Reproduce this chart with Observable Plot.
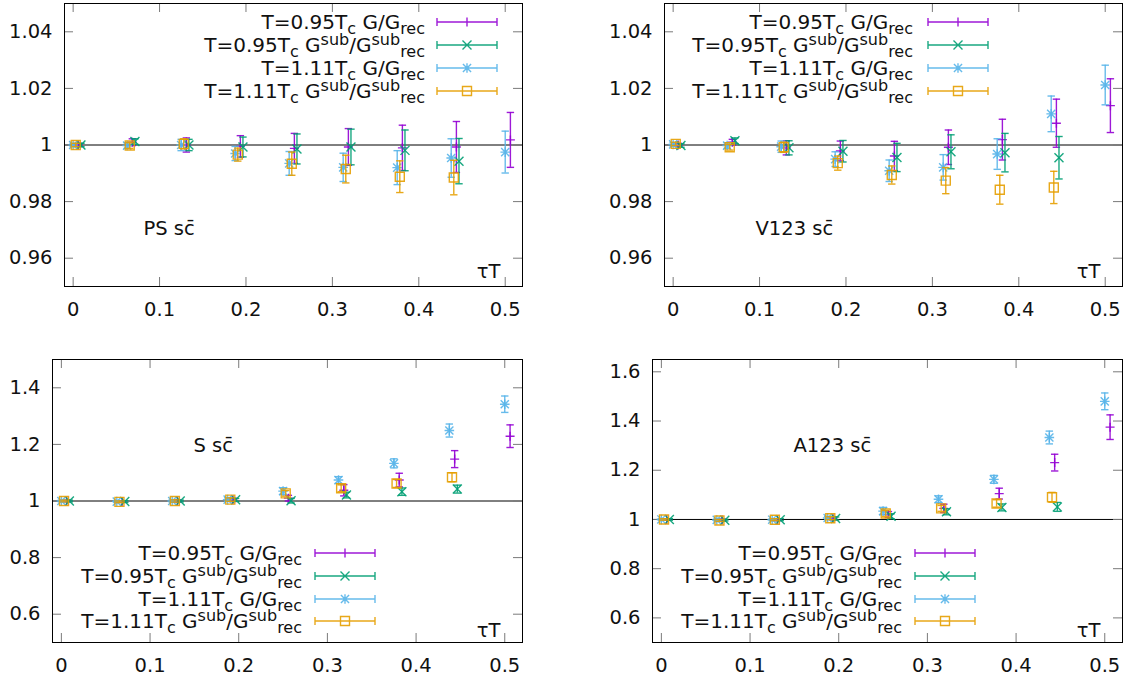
<!DOCTYPE html>
<html><head><meta charset="utf-8">
<script src="https://cdn.jsdelivr.net/npm/d3@7"></script>
<script src="https://cdn.jsdelivr.net/npm/@observablehq/plot@0.6"></script>
<style>
body{margin:0;background:#fff;}
#chart{position:relative;width:1126px;height:682px;overflow:hidden;font-family:"DejaVu Sans",sans-serif;background:#fff;}
.panel{position:absolute;}
.overlay{position:absolute;left:0;top:0;overflow:visible;pointer-events:none;}
</style></head><body><div id="chart"></div>
<script>
// ---------------- data ----------------
const tauT = [0, 0.0625, 0.125, 0.1875, 0.25, 0.3125, 0.375, 0.4375, 0.5];
const xTicks = [0, 0.1, 0.2, 0.3, 0.4, 0.5];
const yTicksTop = [0.96, 0.98, 1, 1.02, 1.04];
const yTicksS = [0.6, 0.8, 1, 1.2, 1.4];
const yTicksA = [0.6, 0.8, 1, 1.2, 1.4, 1.6];
const seriesColors = ["#9400d3", "#009e73", "#56b4e9", "#e69f00"];
const seriesShift = [0.006, 0.009, 0, 0.003];
// legend labels: [text, kind] pieces, kind: n = normal, b = subscript, p = superscript
const seriesLabels = [
  [["T=0.95T","n"],["c","b"],[" G/G","n"],["rec","b"]],
  [["T=0.95T","n"],["c","b"],[" G","n"],["sub","p"],["/G","n"],["sub","p"],["rec","b"]],
  [["T=1.11T","n"],["c","b"],[" G/G","n"],["rec","b"]],
  [["T=1.11T","n"],["c","b"],[" G","n"],["sub","p"],["/G","n"],["sub","p"],["rec","b"]]
];
const panelLabels = ["PS sc\u0304", "V123 sc\u0304", "S sc\u0304", "A123 sc\u0304"];
const axisLabel = "τT";

// PS
const ps_G095     = [1.0000, 1.0010, 1.0000, 0.9995, 0.9988, 0.9993, 0.9990, 0.9993, 1.0018];
const ps_G095_e   = [0.0006, 0.0012, 0.0025, 0.0038, 0.0053, 0.0065, 0.0080, 0.0090, 0.0097];
const ps_S095     = [1.0000, 1.0012, 1.0000, 0.9993, 0.9986, 0.9993, 0.9981, 0.9943, null];
const ps_S095_e   = [0.0006, 0.0010, 0.0020, 0.0035, 0.0053, 0.0063, 0.0072, 0.0080, null];
const ps_G111     = [1.0000, 0.9998, 1.0000, 0.9970, 0.9935, 0.9921, 0.9920, 0.9954, 0.9975];
const ps_G111_e   = [0.0006, 0.0010, 0.0020, 0.0025, 0.0042, 0.0050, 0.0060, 0.0068, 0.0074];
const ps_S111     = [1.0000, 0.9998, 1.0004, 0.9966, 0.9934, 0.9915, 0.9888, 0.9885, null];
const ps_S111_e   = [0.0006, 0.0010, 0.0018, 0.0023, 0.0041, 0.0049, 0.0056, 0.0061, null];
// V123
const v_G095      = [1.0000, 1.0010, 0.9990, 0.9979, 0.9961, 0.9992, 1.0019, 1.0077, 1.0139];
const v_G095_e    = [0.0006, 0.0010, 0.0025, 0.0035, 0.0052, 0.0061, 0.0072, 0.0085, 0.0095];
const v_S095      = [0.9998, 1.0015, 0.9990, 0.9978, 0.9956, 0.9976, 0.9973, 0.9955, null];
const v_S095_e    = [0.0006, 0.0010, 0.0025, 0.0038, 0.0050, 0.0060, 0.0068, 0.0075, null];
const v_G111      = [1.0002, 0.9998, 0.9994, 0.9950, 0.9909, 0.9921, 0.9968, 1.0110, 1.0212];
const v_G111_e    = [0.0006, 0.0010, 0.0020, 0.0026, 0.0038, 0.0045, 0.0054, 0.0063, 0.0070];
const v_S111      = [1.0004, 0.9992, 0.9992, 0.9936, 0.9894, 0.9874, 0.9842, 0.9850, null];
const v_S111_e    = [0.0006, 0.0010, 0.0018, 0.0025, 0.0032, 0.0046, 0.0051, 0.0057, null];
// S
const s_G095      = [1.000, 0.998, 1.000, 1.004, 1.010, 1.038, 1.074, 1.148, 1.229];
const s_G095_e    = [0.003, 0.003, 0.004, 0.006, 0.010, 0.020, 0.024, 0.030, 0.040];
const s_S095      = [1.000, 0.998, 1.000, 1.004, 1.001, 1.021, 1.033, 1.042, null];
const s_S095_e    = [0.003, 0.003, 0.003, 0.005, 0.008, 0.010, 0.013, 0.014, null];
const s_G111      = [1.000, 0.998, 1.000, 1.005, 1.035, 1.074, 1.133, 1.249, 1.342];
const s_G111_e    = [0.003, 0.003, 0.004, 0.006, 0.012, 0.012, 0.016, 0.023, 0.029];
const s_S111      = [1.000, 0.997, 1.000, 1.005, 1.027, 1.045, 1.062, 1.084, null];
const s_S111_e    = [0.003, 0.003, 0.004, 0.006, 0.010, 0.012, 0.014, 0.016, null];
// A123
const a_G095      = [1.000, 0.998, 0.999, 1.004, 1.020, 1.045, 1.105, 1.231, 1.375];
const a_G095_e    = [0.003, 0.004, 0.004, 0.006, 0.012, 0.017, 0.022, 0.034, 0.050];
const a_S095      = [1.000, 0.997, 0.999, 1.004, 1.013, 1.031, 1.049, 1.051, null];
const a_S095_e    = [0.003, 0.003, 0.004, 0.006, 0.010, 0.012, 0.014, 0.018, null];
const a_G111      = [1.000, 0.998, 0.999, 1.006, 1.034, 1.082, 1.163, 1.333, 1.480];
const a_G111_e    = [0.003, 0.004, 0.004, 0.006, 0.015, 0.014, 0.016, 0.026, 0.034];
const a_S111      = [1.000, 0.996, 0.999, 1.005, 1.024, 1.045, 1.065, 1.090, null];
const a_S111_e    = [0.003, 0.004, 0.004, 0.006, 0.012, 0.012, 0.015, 0.020, null];

// ---------------- symbols ----------------
const rad = s => Math.sqrt(s / Math.PI);
const symPlus  = {draw(c, s){const r = rad(s); c.moveTo(-r,0); c.lineTo(r,0); c.moveTo(0,-r); c.lineTo(0,r);}};
const symTimes = {draw(c, s){const r = rad(s); c.moveTo(-r,-r); c.lineTo(r,r); c.moveTo(-r,r); c.lineTo(r,-r);}};
const symStar  = {draw(c, s){const r = rad(s); const q = r*0.85; c.moveTo(-r,0); c.lineTo(r,0); c.moveTo(0,-r); c.lineTo(0,r); c.moveTo(-q,-q); c.lineTo(q,q); c.moveTo(-q,q); c.lineTo(q,-q);}};
const symSquare= {draw(c, s){const r = rad(s); c.moveTo(-r,-r); c.lineTo(r,-r); c.lineTo(r,r); c.lineTo(-r,r); c.closePath();}};
const symCap   = {draw(c, s){const r = rad(s); c.moveTo(-r,0); c.lineTo(r,0);}};
const seriesSymbols = [symPlus, symTimes, symStar, symSquare];
const seriesR = [4.5, 4.5, 4.8, 4.5];

const fmt = d => String(+d.toFixed(2));
const FONT = "DejaVu Sans";
const FS = 19.5;

function buildRows(vals, errs) {
  const rows = [];
  vals.forEach((arr, s) => arr.forEach((v, i) => {
    if (v == null) return;
    rows.push({s, x: tauT[i] + seriesShift[s], y: v, lo: v - errs[s][i], hi: v + errs[s][i]});
  }));
  return rows;
}

function panel(o) {
  const rows = buildRows(o.vals, o.errs);
  const fw = o.width - o.ml - o.mr, fh = o.height - o.mt - o.mb;
  const tickCol = "#7a7a7a";
  const marks = [
    Plot.ruleY([1], {stroke: "black", strokeWidth: 1}),
    Plot.tickX(xTicks, {x: d => d, stroke: tickCol, insetTop: fh - 9}),
    Plot.tickX(xTicks, {x: d => d, stroke: tickCol, insetBottom: fh - 9}),
    Plot.tickY(o.yTicks, {y: d => d, stroke: tickCol, insetRight: fw - 9}),
    Plot.tickY(o.yTicks, {y: d => d, stroke: tickCol, insetLeft: fw - 9}),
    Plot.axisX(xTicks, {tickSize: 0, tickPadding: 16, tickFormat: fmt, fontSize: FS, fill: "#111", label: null}),
    Plot.axisY(o.yTicks, {tickSize: 0, tickPadding: 12, tickFormat: fmt, fontSize: FS, fill: "#111", label: null})
  ];
  for (let s = 0; s < 4; s++) {
    const d = rows.filter(r => r.s === s);
    const col = seriesColors[s];
    const st = {stroke: col, strokeWidth: 1.4, strokeOpacity: 0.9, fill: "none"};
    marks.push(Plot.ruleX(d, {x: "x", y1: "lo", y2: "hi", ...st}));
    marks.push(Plot.dot(d, {x: "x", y: "lo", symbol: symCap, r: 3.7, ...st}));
    marks.push(Plot.dot(d, {x: "x", y: "hi", symbol: symCap, r: 3.7, ...st}));
    marks.push(Plot.dot(d, {x: "x", y: "y", symbol: seriesSymbols[s], r: seriesR[s], ...st}));
  }
  marks.push(Plot.frame({stroke: "black", strokeWidth: 1}));
  marks.push(Plot.text([o.label], {text: d => d, frameAnchor: "top-left", dx: o.ldx, dy: o.ldy, textAnchor: "start", lineAnchor: "middle", fontSize: FS, fill: "#111"}));
  marks.push(Plot.text([axisLabel], {text: d => d, frameAnchor: "bottom-right", dx: -22, dy: o.tdy, textAnchor: "end", lineAnchor: "middle", fontSize: FS, fill: "#111"}));
  const svg = Plot.plot({
    width: o.width, height: o.height,
    marginLeft: o.ml, marginRight: o.mr, marginTop: o.mt, marginBottom: o.mb,
    x: {domain: [-0.01, 0.52], label: null},
    y: {domain: o.yDomain, label: null},
    style: {fontFamily: FONT, fontSize: FS + "px", background: "transparent", overflow: "visible"},
    marks
  });
  svg.classList.add("panel");
  svg.style.left = o.left + "px";
  svg.style.top = o.top + "px";
  return svg;
}

const chart = document.getElementById("chart");
chart.appendChild(panel({left: 0, top: 0, width: 563, height: 320, ml: 64, mr: 41, mt: 3, mb: 34,
  yDomain: [0.95, 1.05], yTicks: yTicksTop, label: panelLabels[0], ldx: 79, ldy: 225, tdy: -15,
  vals: [ps_G095, ps_S095, ps_G111, ps_S111], errs: [ps_G095_e, ps_S095_e, ps_G111_e, ps_S111_e]}));
chart.appendChild(panel({left: 563, top: 0, width: 563, height: 320, ml: 101, mr: 4, mt: 3, mb: 34,
  yDomain: [0.95, 1.05], yTicks: yTicksTop, label: panelLabels[1], ldx: 91, ldy: 225, tdy: -15,
  vals: [v_G095, v_S095, v_G111, v_S111], errs: [v_G095_e, v_S095_e, v_G111_e, v_S111_e]}));
chart.appendChild(panel({left: 0, top: 320, width: 563, height: 362, ml: 52, mr: 41, mt: 39, mb: 40,
  yDomain: [0.5, 1.5], yTicks: yTicksS, label: panelLabels[2], ldx: 141, ldy: 86, tdy: -12,
  vals: [s_G095, s_S095, s_G111, s_S111], errs: [s_G095_e, s_S095_e, s_G111_e, s_S111_e]}));
chart.appendChild(panel({left: 563, top: 320, width: 563, height: 362, ml: 89, mr: 4, mt: 39, mb: 40,
  yDomain: [0.5, 1.65], yTicks: yTicksA, label: panelLabels[3], ldx: 141, ldy: 86, tdy: -12,
  vals: [a_G095, a_S095, a_G111, a_S111], errs: [a_G095_e, a_S095_e, a_G111_e, a_S111_e]}));

// ---------------- legends (one SVG overlay, one text block per legend) ----------------
const NS = "http://www.w3.org/2000/svg";
const overlay = document.createElementNS(NS, "svg");
overlay.setAttribute("width", 1126); overlay.setAttribute("height", 682);
overlay.setAttribute("class", "overlay");
chart.appendChild(overlay);

const LFS = 20, SUBFS = 16, SUBDY = 5.2, SUPDY = -7.4;
function legend(textRight, sampleLeft, rowYs) {
  const text = document.createElementNS(NS, "text");
  text.setAttribute("font-family", FONT);
  text.setAttribute("font-size", LFS);
  text.setAttribute("fill", "#111");
  text.setAttribute("text-anchor", "end");
  rowYs.forEach((yc, s) => {
    let shift = 0;
    seriesLabels[s].forEach(([str, kind], k) => {
      const ts = document.createElementNS(NS, "tspan");
      const target = kind === "b" ? SUBDY : kind === "p" ? SUPDY : 0;
      if (k === 0) { ts.setAttribute("x", textRight); ts.setAttribute("y", yc + 7); }
      else ts.setAttribute("dy", target - shift);
      shift = target;
      if (kind !== "n") ts.setAttribute("font-size", SUBFS);
      ts.textContent = str;
      text.appendChild(ts);
    });
    // swatch: error bar with caps and marker
    const col = seriesColors[s];
    const x0 = sampleLeft, x1 = sampleLeft + 60, xm = (x0 + x1) / 2;
    const c = {s: "", moveTo(x,y){this.s += `M${xm+x},${yc+y}`;}, lineTo(x,y){this.s += `L${xm+x},${yc+y}`;}, closePath(){this.s += "Z";}};
    const r = seriesR[s];
    seriesSymbols[s].draw(c, r*r*Math.PI);
    const p = document.createElementNS(NS, "path");
    p.setAttribute("d", `M${x0},${yc}H${x1}M${x0},${yc-4}V${yc+4}M${x1},${yc-4}V${yc+4}` + c.s);
    p.setAttribute("fill", "none");
    p.setAttribute("stroke", col);
    p.setAttribute("stroke-width", 1.4);
    p.setAttribute("stroke-opacity", 0.9);
    overlay.appendChild(p);
  });
  overlay.appendChild(text);
}
legend(425, 437, [22, 45, 68, 91]);
legend(913, 928, [22, 45, 68, 91]);
legend(302, 315, [553, 576, 599, 621]);
legend(902, 915, [553, 576, 599, 621]);
</script></body></html>
